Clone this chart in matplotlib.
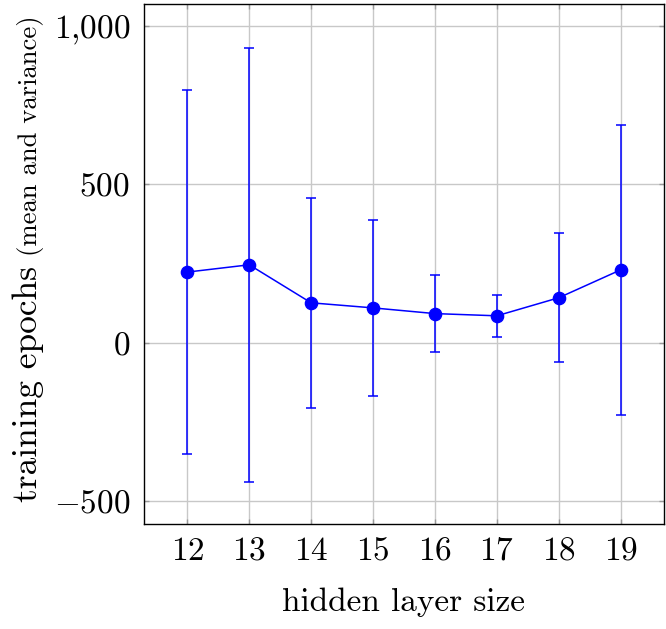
import numpy as np
import matplotlib
matplotlib.use("Agg")
import matplotlib.pyplot as plt

plt.rcParams['font.family'] = 'serif'
plt.rcParams['font.serif'] = ['cmr10']
plt.rcParams['mathtext.fontset'] = 'cm'
plt.rcParams['axes.formatter.use_mathtext'] = True

## datos
hidden = [12, 13, 14, 15, 16, 17, 18, 19]
mean_epochs = [223, 246, 126, 110, 92, 85, 142, 230]
var_epochs = [575, 685, 332, 278, 121, 67, 204, 458]
yticks = [-500, 0, 500, 1000]
ytick_labels = ["$-500$", "$0$", "$500$", "$1{,}000$"]

fig = plt.figure(figsize=(6.66, 6.29), dpi=100)
ax = fig.add_axes([144/666, 1-524/629, 520/666, 520/629])

ax.errorbar(hidden, mean_epochs, yerr=var_epochs, color=(0, 0, 1), lw=1.1,
            marker='o', ms=8.8, capsize=3.6, capthick=1.1, elinewidth=1.1, zorder=3)

ax.set_xlim(11.3, 19.7)
ax.set_ylim(-572, 1069)
ax.set_xticks(hidden)
ax.set_xticklabels(["$%d$" % h for h in hidden])
ax.set_yticks(yticks)
ax.set_yticklabels(ytick_labels)
ax.grid(True, color='#c8c8c8', lw=1.0, zorder=0)
ax.tick_params(direction='in', length=3.5, width=1.0, color='#999999',
               top=True, right=True, labelsize=24)
ax.tick_params(axis='x', pad=9)
ax.tick_params(axis='y', pad=10)
for s in ax.spines.values():
    s.set_linewidth(1.0)
    s.set_color('black')

## etiquetas
fig.text(404/666, 1-611/629, "hidden layer size", ha='center', va='baseline', fontsize=24)
fig.text(36.5/666, 1-502/629, "training epochs", rotation=90, rotation_mode='anchor',
         ha='left', va='baseline', fontsize=25.5)
fig.text(37/666, 1-256/629, "(mean and variance)", rotation=90, rotation_mode='anchor',
         ha='left', va='baseline', fontsize=19.2)

plt.savefig("out.png")
